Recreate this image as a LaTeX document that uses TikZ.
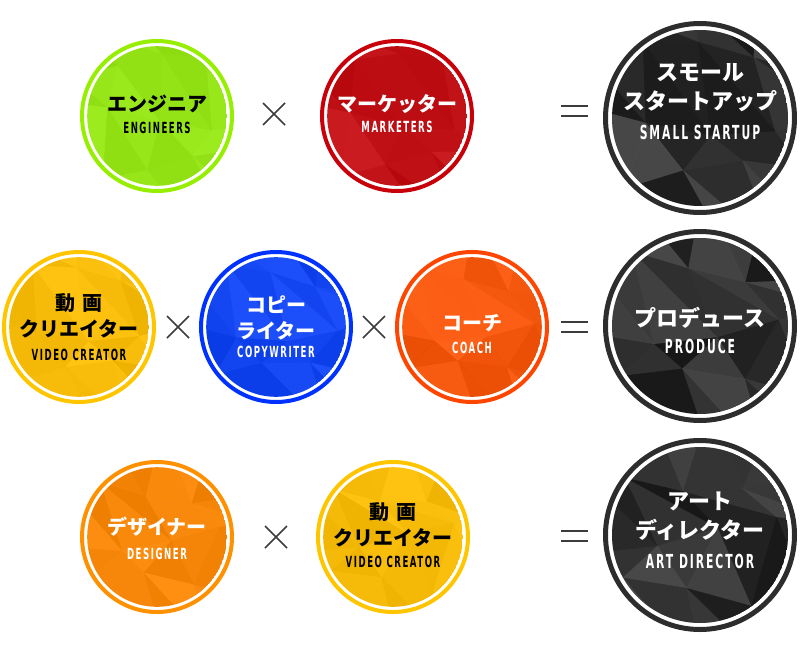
\documentclass[tikz,border=0pt]{standalone}
\usepackage{fontspec}
\newfontfamily\jpfont{Noto Sans CJK JP}
\newfontfamily\enfont{DejaVu Sans}[FakeStretch=0.56,LetterSpace=10]
\usetikzlibrary{calc}

\definecolor{limering}{RGB}{150,238,0}
\definecolor{limefill}{RGB}{150,235,15}
\definecolor{redring}{RGB}{200,0,10}
\definecolor{redfill}{RGB}{198,8,14}
\definecolor{darkring}{RGB}{45,45,45}
\definecolor{darkfill}{RGB}{28,28,28}
\definecolor{yelring}{RGB}{255,198,0}
\definecolor{yelfill}{RGB}{255,192,0}
\definecolor{bluering}{RGB}{0,50,255}
\definecolor{bluefill}{RGB}{10,65,250}
\definecolor{coachring}{RGB}{255,70,0}
\definecolor{coachfill}{RGB}{255,85,5}
\definecolor{orring}{RGB}{255,145,0}
\definecolor{orfill}{RGB}{255,135,0}
\definecolor{signgray}{RGB}{60,60,60}

\begin{document}
\begin{tikzpicture}[x=0.75pt,y=-0.75pt,
	jp/.style={anchor=base,inner sep=0pt,font=\jpfont\bfseries\fontsize{15}{15}\selectfont},
	jpbig/.style={anchor=base,inner sep=0pt,font=\jpfont\bfseries\fontsize{16.5}{16.5}\selectfont},
	en/.style={anchor=base,inner sep=0pt,font=\enfont\bfseries\fontsize{11.5}{11.5}\selectfont},
	enbig/.style={anchor=base,inner sep=0pt,font=\enfont\bfseries\fontsize{14.5}{14.5}\selectfont},
	sign/.style={draw=signgray,line width=1.2pt}]
	\useasboundingbox (0,0) rectangle (800,650);

	%badges: name/centre x/centre y/radius/ring width/ring colour/fill colour/facet opacity/seed
	\foreach \name/\cx/\cy/\R/\w/\ring/\base/\op/\seed in {
		eng/157/116/77/4/limering/limefill/0.07/11,
		mkt/397/116/77/4/redring/redfill/0.08/23,
		small/700/118/97/5/darkring/darkfill/0.2/37,
		vid/79/327/77/4/yelring/yelfill/0.07/41,
		copy/276/327/77/4/bluering/bluefill/0.08/53,
		coach/472/327/77/4/coachring/coachfill/0.08/67,
		prod/700/326/97/5/darkring/darkfill/0.2/71,
		des/157/537/77/4/orring/orfill/0.07/83,
		vidb/393/537/77/4/yelring/yelfill/0.07/97,
		art/700/535/97/5/darkring/darkfill/0.2/101}
	{
		\pgfmathsetmacro{\inner}{\R-1.8*\w}		%radius of filled disc
		\pgfmathsetmacro{\c}{\R/1.6}			%facet cell size
		\pgfmathsetseed{\seed}
		\coordinate (\name) at (\cx,\cy);
		\draw[\ring,line width=0.75*\w pt] (\name) circle (\R-\w/2);
		\begin{scope}
			\clip (\name) circle (\inner);
			\fill[\base] (\name) circle (\inner);
			%low poly facets
			\foreach \i in {-2,...,1}{
				\foreach \j in {-2,...,1}{
					\pgfmathsetmacro{\ii}{\i+1}
					\pgfmathsetmacro{\jj}{\j+1}
					\coordinate (p) at ({\cx+\i*\c+0.3*\c*sin(\i*737+\j*1291+\seed)},{\cy+\j*\c+0.3*\c*sin(\i*419+\j*853+2*\seed)});
					\coordinate (q) at ({\cx+\ii*\c+0.3*\c*sin(\ii*737+\j*1291+\seed)},{\cy+\j*\c+0.3*\c*sin(\ii*419+\j*853+2*\seed)});
					\coordinate (r) at ({\cx+\i*\c+0.3*\c*sin(\i*737+\jj*1291+\seed)},{\cy+\jj*\c+0.3*\c*sin(\i*419+\jj*853+2*\seed)});
					\coordinate (s) at ({\cx+\ii*\c+0.3*\c*sin(\ii*737+\jj*1291+\seed)},{\cy+\jj*\c+0.3*\c*sin(\ii*419+\jj*853+2*\seed)});
					\pgfmathsetmacro{\ga}{int(100*rnd)}
					\pgfmathsetmacro{\gb}{int(100*rnd)}
					\fill[black!\ga!white,fill opacity=\op] (p) -- (q) -- (s) -- cycle;
					\fill[black!\gb!white,fill opacity=\op] (p) -- (s) -- (r) -- cycle;
				}
			}
		\end{scope}
	}

	%row 1
	\node[jp] (eng-jp) at (157,111.5) {エンジニア};
	\node[en] (eng-en) at (157,133) {ENGINEERS};
	\node[jp,text=white] (mkt-jp) at (397,111.5) {マーケッター};
	\node[en,text=white] (mkt-en) at (397,132) {MARKETERS};
	\node[jpbig,text=white] (small-jp1) at (700,80.5) {スモール};
	\node[jpbig,text=white] (small-jp2) at (700,109.5) {スタートアップ};
	\node[enbig,text=white] (small-en) at (700,139.5) {SMALL STARTUP};

	%row 2
	\node[jp] (vid-jp1) at (79,310.5) {動\hspace{0.4em}画};
	\node[jp] (vid-jp2) at (79,336.5) {クリエイター};
	\node[en] (vid-en) at (79,360) {VIDEO CREATOR};
	\node[jp,text=white] (copy-jp1) at (276,312.5) {コピー};
	\node[jp,text=white] (copy-jp2) at (276,338.5) {ライター};
	\node[en,text=white] (copy-en) at (276,357) {COPYWRITER};
	\node[jp,text=white] (coach-jp) at (472,330.5) {コーチ};
	\node[en,text=white] (coach-en) at (472,353) {COACH};
	\node[jpbig,text=white] (prod-jp) at (700,326.5) {プロデュース};
	\node[enbig,text=white] (prod-en) at (700,353.5) {PRODUCE};

	%row 3
	\node[jp,text=white] (des-jp) at (157,534.5) {デザイナー};
	\node[en,text=white] (des-en) at (157,559) {DESIGNER};
	\node[jp] (vidb-jp1) at (393,519.5) {動\hspace{0.4em}画};
	\node[jp] (vidb-jp2) at (393,545.5) {クリエイター};
	\node[en] (vidb-en) at (393,567) {VIDEO CREATOR};
	\node[jpbig,text=white] (art-jp1) at (700,509.5) {アート};
	\node[jpbig,text=white] (art-jp2) at (700,538.5) {ディレクター};
	\node[enbig,text=white] (art-en) at (700,568.5) {ART DIRECTOR};

	%signs
	\coordinate (times1) at (274,114);
	\coordinate (times2) at (178,327);
	\coordinate (times3) at (374,327);
	\coordinate (times4) at (276,537);
	\coordinate (eq1) at (574.5,111);
	\coordinate (eq2) at (574.5,327);
	\coordinate (eq3) at (574.5,536);
	\foreach \t in {times1,times2,times3,times4}
		\draw[sign] (\t) +(-11,-11) -- +(11,11) (\t) +(-11,11) -- +(11,-11);
	\foreach \e in {eq1,eq2,eq3}
		\draw[sign] (\e) +(-13.5,-5) -- +(13.5,-5) (\e) +(-13.5,5) -- +(13.5,5);
\end{tikzpicture}
\end{document}
